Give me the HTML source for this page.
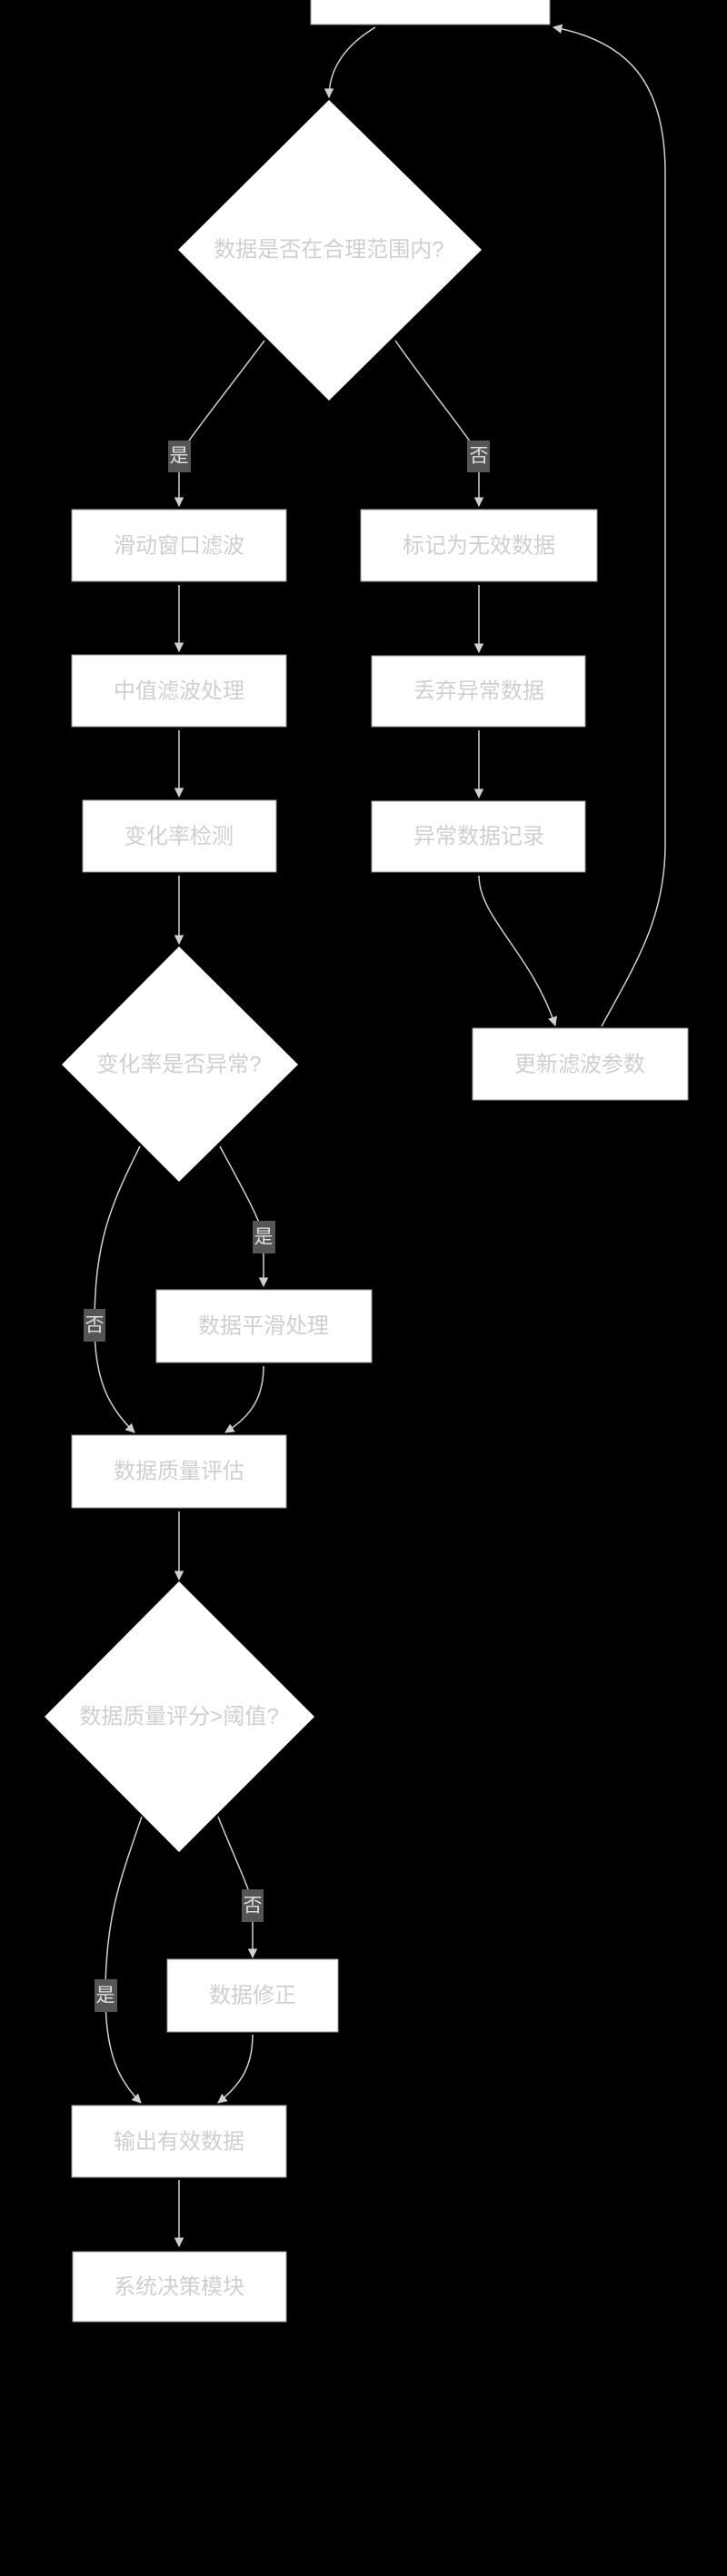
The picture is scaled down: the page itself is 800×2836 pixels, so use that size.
<!DOCTYPE html>
<html><head><meta charset="utf-8"><style>
html,body{margin:0;padding:0;background:#000;width:800px;height:2836px;overflow:hidden}
svg text{font-family:"Liberation Sans","Noto Sans CJK SC",sans-serif;fill:#cfcfcf;text-anchor:middle;dominant-baseline:central}
.l{font-size:21px;fill:#e0e0e0}
</style></head><body>
<svg width="800" height="2836" viewBox="0 0 800 2836" xmlns="http://www.w3.org/2000/svg">
<defs><marker id="a" viewBox="0 0 10 10" refX="9" refY="5" markerWidth="7" markerHeight="7" orient="auto"><path d="M0,0L10,5L0,10z" fill="#d0d0d0"/></marker></defs>
<g fill="none" stroke="#d0d0d0" stroke-width="1.5" marker-end="url(#a)">
<path d="M413,30 C380,50 362,75 362,107"/>
<path d="M291,375 C250,430 210,480 197,501 L197,557"/>
<path d="M435,375 C470,425 515,480 527,501 L527,557"/>
<path d="M197,644 L197,717"/>
<path d="M197,804 L197,877"/>
<path d="M527,644 L527,718"/>
<path d="M527,804 L527,878"/>
<path d="M197,964 L197,1039"/>
<path d="M527,964 C527,1010 585,1050 611,1129"/>
<path d="M662,1130 C700,1060 732,1010 732,930 L732,190 C732,90 690,45 609,30"/>
<path d="M154,1262 C120,1330 104,1370 104,1459 C104,1520 120,1550 148,1577"/>
<path d="M242,1262 C265,1305 285,1340 290,1361 L290,1416"/>
<path d="M290,1504 C290,1540 275,1560 248,1577"/>
<path d="M197,1664 L197,1739"/>
<path d="M156,2000 C130,2075 116,2115 116,2196 C116,2260 130,2290 155,2315"/>
<path d="M240,2000 C258,2045 275,2080 278,2097 L278,2155"/>
<path d="M278,2240 C278,2275 265,2295 240,2315"/>
<path d="M197,2400 L197,2473"/>
</g>
<g fill="#fff" stroke="#999" stroke-width="1">
<rect x="342" y="-2" width="263" height="29"/>
<polygon points="362,110 530,275 362,441 196,275" stroke="none"/>
<rect x="79" y="561" width="236" height="79"/>
<rect x="397" y="561" width="260" height="79"/>
<rect x="79" y="721" width="236" height="79"/>
<rect x="409" y="722" width="235" height="78"/>
<rect x="91" y="881" width="213" height="79"/>
<rect x="409" y="882" width="235" height="78"/>
<polygon points="197,1042 328,1172 197,1301 68,1172" stroke="none"/>
<rect x="520" y="1132" width="237" height="79"/>
<rect x="172" y="1420" width="237" height="80"/>
<rect x="79" y="1580" width="236" height="80"/>
<polygon points="197,1741 346,1890 197,2039 49,1890" stroke="none"/>
<rect x="184" y="2157" width="188" height="80"/>
<rect x="79" y="2318" width="236" height="79"/>
<rect x="80" y="2479" width="235" height="77"/>
</g>
<g font-size="24">
<text x="362" y="275">数据是否在合理范围内?</text>
<text x="197" y="601">滑动窗口滤波</text>
<text x="527" y="601">标记为无效数据</text>
<text x="197" y="761">中值滤波处理</text>
<text x="527" y="761">丢弃异常数据</text>
<text x="197" y="921">变化率检测</text>
<text x="527" y="921">异常数据记录</text>
<text x="197" y="1172">变化率是否异常?</text>
<text x="638" y="1172">更新滤波参数</text>
<text x="290" y="1460">数据平滑处理</text>
<text x="197" y="1620">数据质量评估</text>
<text x="197" y="1890">数据质量评分&gt;阈值?</text>
<text x="278" y="2197">数据修正</text>
<text x="197" y="2358">输出有效数据</text>
<text x="197" y="2518">系统决策模块</text>
</g>
<g fill="#555">
<rect x="185" y="485" width="25" height="35"/>
<rect x="514" y="485" width="25" height="35"/>
<rect x="278" y="1344" width="25" height="36"/>
<rect x="92" y="1441" width="24" height="36"/>
<rect x="266" y="2080" width="24" height="36"/>
<rect x="104" y="2179" width="25" height="36"/>
</g>
<text class="l" x="197" y="502">是</text>
<text class="l" x="527" y="502">否</text>
<text class="l" x="290" y="1362">是</text>
<text class="l" x="104" y="1459">否</text>
<text class="l" x="278" y="2098">否</text>
<text class="l" x="116" y="2197">是</text>
</svg>
</body></html>
